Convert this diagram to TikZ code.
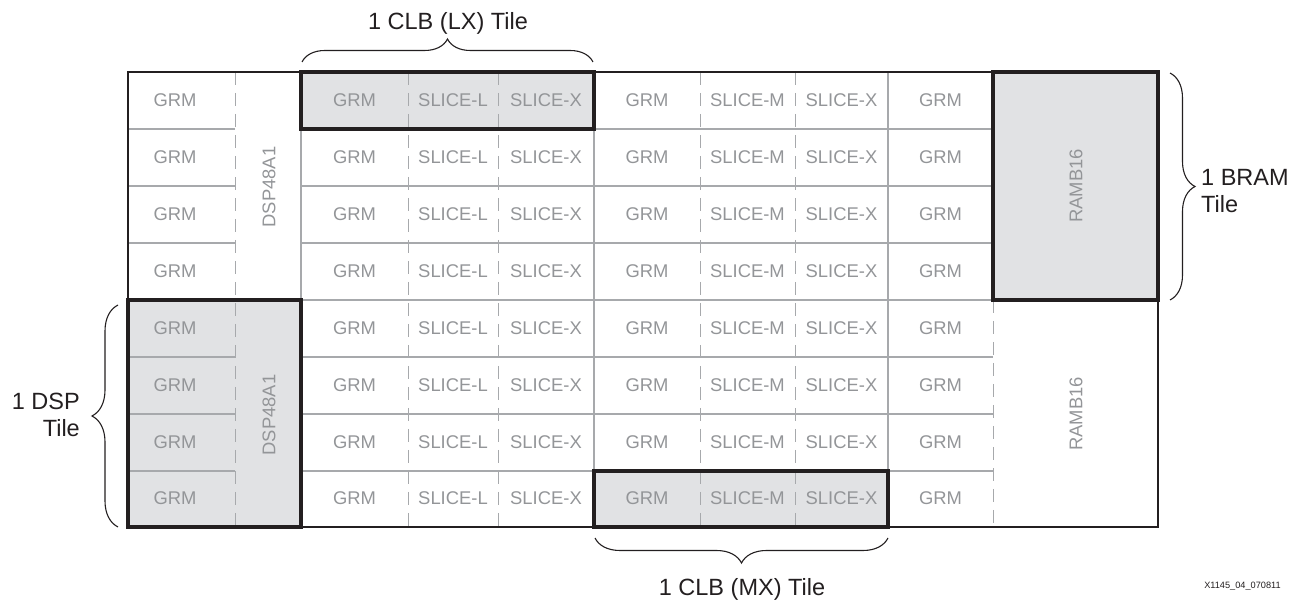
\documentclass[tikz,border=0pt]{standalone}
\usepackage{fontspec}
\setmainfont{Liberation Sans}
\usetikzlibrary{decorations.pathreplacing}
\definecolor{cellgray}{HTML}{939598}
\definecolor{linegray}{HTML}{A7A9AC}
\definecolor{dashgray}{HTML}{A7A9AC}
\definecolor{tilefill}{HTML}{E1E2E4}
\definecolor{ink}{HTML}{231F20}
\begin{document}
\begin{tikzpicture}[x=1pt,y=-1pt,
  cell/.style={text=cellgray, font=\fontsize{18.4}{20}\selectfont, inner sep=0pt},
  vcell/.style={cell, rotate=90},
  gridline/.style={draw=linegray, line width=1.6pt},
  dashline/.style={draw=dashgray, line width=1pt, dash pattern=on 13pt off 8pt},
  tilebox/.style={draw=ink, line width=4pt, fill=tilefill},
  tilefillonly/.style={fill=tilefill},
  frame/.style={draw=ink, line width=1.3pt},
  bracedeco/.style={draw=ink, line width=1.1pt, decorate, decoration={brace, amplitude=#1}},
  lbl/.style={text=ink, font=\fontsize{23.5}{27}\selectfont, inner sep=0pt},
  tiny/.style={text=ink, font=\fontsize{9.2}{11}\selectfont, inner sep=0pt},
]
\useasboundingbox (0,0) rectangle (1302,601);

% tile fills
\fill[tilefillonly] (301,72) rectangle (594,129);
\fill[tilefillonly] (993,72) rectangle (1158,300);
\fill[tilefillonly] (128,300) rectangle (301,527);
\fill[tilefillonly] (594,471) rectangle (888,527);

% horizontal row lines
\foreach \yy in {129,186,243,357,414,471} {
  \draw[gridline] (128,\yy) -- (235,\yy);
}
\foreach \yy in {129,186,243,300,357,414,471} {
  \draw[gridline] (301,\yy) -- (993,\yy);
}
% vertical solid lines
\foreach \xx in {301,594,888} {
  \draw[gridline] (\xx,72) -- (\xx,527);
}
% vertical dashed lines
\foreach \xx in {235,408,498,700,795} {
  \draw[dashline] (\xx,72) -- (\xx,527);
}
\draw[dashline] (993,300) -- (993,527);

% outer frame
\draw[frame] (128,72) rectangle (1158,527);

% tile outlines
\draw[tilebox, fill=none] (301,72) rectangle (594,129);
\draw[tilebox, fill=none] (993,72) rectangle (1158,300);
\draw[tilebox, fill=none] (128,300) rectangle (301,527);
\draw[tilebox, fill=none] (594,471) rectangle (888,527);

% cell labels
\foreach \r in {1,...,8} {
  \pgfmathsetmacro{\yc}{72+(\r-0.5)*56.875}
  \node[cell] (a\r) at (175,\yc) {GRM};
  \node[cell] (b\r) at (354.5,\yc) {GRM};
  \node[cell] (c\r) at (453,\yc) {SLICE-L};
  \node[cell] (d\r) at (546,\yc) {SLICE-X};
  \node[cell] (e\r) at (647,\yc) {GRM};
  \node[cell] (f\r) at (747.5,\yc) {SLICE-M};
  \node[cell] (g\r) at (841.5,\yc) {SLICE-X};
  \node[cell] (h\r) at (940.5,\yc) {GRM};
}
\node[vcell] (dsp1) at (269,187) {DSP48A1};
\node[vcell] (dsp2) at (269,415) {DSP48A1};
\node[vcell] (ram1) at (1076,186) {RAMB16};
\node[vcell] (ram2) at (1076,414) {RAMB16};

% braces
\coordinate (lxL) at (302,62);
\coordinate (lxR) at (593,62);
\coordinate (brT) at (1170,73);
\coordinate (brB) at (1170,300);
\coordinate (dsB) at (118,527);
\coordinate (dsT) at (118,305);
\coordinate (mxR) at (888,538);
\coordinate (mxL) at (595,538);
\draw[bracedeco=23] (lxL) -- (lxR);
\draw[bracedeco=25] (brT) -- (brB);
\draw[bracedeco=26] (dsB) -- (dsT);
\draw[bracedeco=25] (mxR) -- (mxL);

% tile labels
\node[lbl, anchor=base] (lxlbl) at (448,30) {1 CLB (LX) Tile};
\node[lbl, anchor=base] (mxlbl) at (742,595) {1 CLB (MX) Tile};
\node[lbl, anchor=west, align=left] (brlbl) at (1201,191) {1 BRAM\\Tile};
\node[lbl, anchor=east, align=right] (dslbl) at (80,415) {1 DSP\\Tile};
\node[tiny] (fig) at (1242.5,586) {X1145\_04\_070811};
\end{tikzpicture}
\end{document}
